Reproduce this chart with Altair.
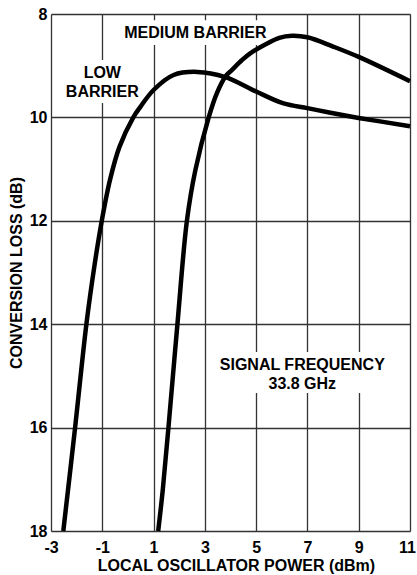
import altair as alt
import pandas as pd

# Low barrier curve (LO power dBm, conversion loss dB)
low_x = [-2.52, -2.06, -1.62, -1.30, -1.02, -0.70, -0.33, 0.21, 0.48, 1.0, 1.78, 2.7, 3.8, 5.0, 6.07, 7.0, 7.9, 9.0, 11.0]
low_y = [18.0, 16.0, 14.0, 12.85, 12.0, 11.21, 10.57, 10.0, 9.80, 9.47, 9.18, 9.12, 9.22, 9.50, 9.73, 9.82, 9.91, 10.01, 10.17]

# Medium barrier curve
med_x = [1.18, 1.36, 1.58, 1.93, 2.30, 2.63, 3.15, 3.47, 3.80, 4.06, 4.45, 4.77, 5.43, 5.9, 6.4, 7.0, 8.0, 9.0, 11.0]
med_y = [18.0, 17.2, 16.0, 14.0, 12.0, 11.02, 10.0, 9.53, 9.21, 9.08, 8.89, 8.76, 8.57, 8.46, 8.42, 8.45, 8.63, 8.83, 9.30]

x_ticks = [-3, -1, 1, 3, 5, 7, 9, 11]
y_ticks = [8, 10, 12, 14, 16, 18]

FONT = "Liberation Sans"

rows = []
for i, (x, y) in enumerate(zip(low_x, low_y)):
    rows.append({"series": "LOW", "x": x, "y": y, "i": i})
for i, (x, y) in enumerate(zip(med_x, med_y)):
    rows.append({"series": "MEDIUM", "x": x, "y": y, "i": i})
df = pd.DataFrame(rows)

labels = pd.DataFrame([
    {"text": "LOW", "x": -1.0, "y": 9.14},
    {"text": "BARRIER", "x": -1.0, "y": 9.51},
    {"text": "MEDIUM BARRIER", "x": 2.63, "y": 8.37},
    {"text": "SIGNAL FREQUENCY", "x": 6.8, "y": 14.79},
    {"text": "33.8 GHz", "x": 6.8, "y": 15.16},
])

masks = pd.DataFrame([
    {"x": -2.49, "x2": 0.45, "y": 8.89, "y2": 9.72},
    {"x": -0.30, "x2": 5.55, "y": 8.12, "y2": 8.60},
    {"x": 3.41, "x2": 10.24, "y": 14.54, "y2": 15.33},
])

xscale = alt.Scale(domain=[-3, 11], nice=False, zero=False)
yscale = alt.Scale(domain=[8, 18], reverse=True, nice=False, zero=False)

xaxis = alt.Axis(values=x_ticks, title="LOCAL OSCILLATOR POWER (dBm)", grid=True,
                 gridColor="#333", gridWidth=1.3, gridOpacity=1, ticks=False,
                 domain=False, labelPadding=8, labelFlush=False, labelOverlap=False,
                 labelExpr="'' + datum.value",
                 labelOffset={"condition": {"test": "datum.value == 11", "value": -3}, "value": 0},
                 labelFont=FONT, labelFontSize=16, labelFontWeight="bold", labelColor="black",
                 titleFont=FONT, titleFontSize=16, titleFontWeight="bold", titleColor="black",
                 titlePadding=2, titleX=185)
yaxis = alt.Axis(values=y_ticks, title="CONVERSION LOSS (dB)", grid=True,
                 gridColor="#333", gridWidth=1.3, gridOpacity=1, ticks=False,
                 domain=False, labelPadding=4, labelFlush=False, labelOverlap=False,
                 labelExpr="'' + datum.value",
                 labelFont=FONT, labelFontSize=16, labelFontWeight="bold", labelColor="black",
                 titleFont=FONT, titleFontSize=16, titleFontWeight="bold", titleColor="black",
                 titlePadding=5)

mask_layer = alt.Chart(masks).mark_rect(color="white").encode(
    x=alt.X("x:Q", scale=xscale, axis=xaxis),
    x2="x2:Q",
    y=alt.Y("y:Q", scale=yscale, axis=yaxis),
    y2="y2:Q",
)

lines = alt.Chart(df).mark_line(color="black", strokeWidth=4.5, interpolate="catmull-rom").encode(
    x=alt.X("x:Q", scale=xscale),
    y=alt.Y("y:Q", scale=yscale),
    detail="series:N",
    order="i:Q",
)

text = alt.Chart(labels).mark_text(font=FONT, fontSize=16, fontWeight="bold",
                                   color="black", align="center", baseline="middle").encode(
    x=alt.X("x:Q", scale=xscale),
    y=alt.Y("y:Q", scale=yscale),
    text="text:N",
)

chart = alt.layer(mask_layer, lines, text).properties(
    width=359, height=517,
    autosize=alt.AutoSizeParams(type="none"),
    padding={"left": 51, "top": 14, "right": 7, "bottom": 44},
).configure_view(stroke="black", strokeWidth=2).configure(background="white")

chart.save("out.html", embed_options={"renderer": "svg", "actions": False})
